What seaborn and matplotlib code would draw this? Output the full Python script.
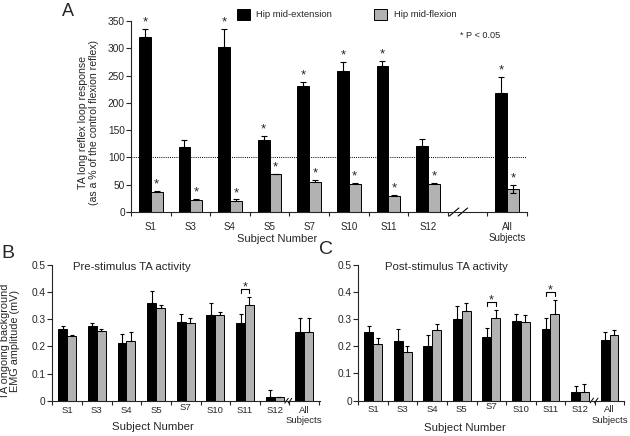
import numpy as np
import pandas as pd
import matplotlib
matplotlib.use('Agg')
import matplotlib.pyplot as plt
import seaborn as sns
from matplotlib.patches import Patch
from matplotlib.transforms import ScaledTranslation, blended_transform_factory

# ---------------- data ----------------
subjects = ['S1', 'S3', 'S4', 'S5', 'S7', 'S10', 'S11', 'S12', 'All']
tick_labels = ['S1', 'S3', 'S4', 'S5', 'S7', 'S10', 'S11', 'S12', 'All\nSubjects']
conditions = ['Hip mid-extension', 'Hip mid-flexion']

# Panel A: TA long reflex loop response (% of control flexion reflex)
a_ext = [320, 120, 302, 132, 231, 259, 267, 121, 218]
a_ext_err = [15, 12, 33, 8, 7, 16, 10, 12, 30]
a_flex = [36, 22, 21, 69, 55, 52, 30, 52, 42]
a_flex_err = [3, 1.5, 2, 1, 3, 2, 1, 2, 7]
a_flex_err_low = [0, 0, 0, 0, 0, 0, 0, 0, 7]
a_ext_sig = [1, 0, 1, 1, 1, 1, 1, 0, 1]
a_flex_sig = [1, 1, 1, 1, 1, 1, 1, 1, 1]

# Panel B: pre-stimulus TA activity (mV)
b_ext = [0.266, 0.274, 0.212, 0.359, 0.290, 0.317, 0.287, 0.013, 0.252]
b_ext_err = [0.008, 0.013, 0.033, 0.046, 0.029, 0.042, 0.031, 0.028, 0.052]
b_flex = [0.238, 0.256, 0.220, 0.340, 0.287, 0.314, 0.353, 0.012, 0.252]
b_flex_err = [0.004, 0.007, 0.033, 0.013, 0.017, 0.013, 0.030, 0.003, 0.052]
b_pair_sig = [0, 0, 0, 0, 0, 0, 1, 0, 0]

# Panel C: post-stimulus TA activity (mV)
c_ext = [0.252, 0.220, 0.200, 0.302, 0.235, 0.293, 0.262, 0.031, 0.224]
c_ext_err = [0.024, 0.042, 0.043, 0.045, 0.031, 0.026, 0.041, 0.023, 0.027]
c_flex = [0.210, 0.180, 0.260, 0.329, 0.303, 0.288, 0.320, 0.031, 0.240]
c_flex_err = [0.019, 0.022, 0.021, 0.029, 0.030, 0.029, 0.052, 0.031, 0.019]
c_pair_sig = [0, 0, 0, 0, 1, 0, 1, 0, 0]

BLACK = '#000000'
GREY = '#b2b2b2'

sns.set_style('ticks')
plt.rcParams['font.family'] = ['Liberation Sans', 'DejaVu Sans']
plt.rcParams['axes.linewidth'] = 0.8

fig = plt.figure(figsize=(6.3, 4.36), dpi=100)
W, H = 630, 436
axA = fig.add_axes([131 / W, 1 - 212 / H, 396 / W, 191 / H])
axB = fig.add_axes([51.7 / W, 1 - 400.7 / H, 268 / W, 135.7 / H])
axC = fig.add_axes([358.3 / W, 1 - 400.5 / H, 266 / W, 135.5 / H])


def make_df(ext, flex):
    return pd.DataFrame({
        'subject': subjects * 2,
        'condition': [conditions[0]] * len(subjects) + [conditions[1]] * len(subjects),
        'value': list(ext) + list(flex),
    })


def draw_panel(ax, ext, flex, order, lw):
    df = make_df(ext, flex)
    sns.barplot(data=df, x='subject', y='value', hue='condition', order=order,
                hue_order=conditions, palette=[BLACK, GREY], saturation=1,
                width=0.6, errorbar=None, edgecolor='black', linewidth=lw,
                legend=False, ax=ax)
    centers = []
    for cont in ax.containers[:2]:
        cs = sorted(p.get_x() + p.get_width() / 2 for p in cont)
        centers.append(np.array(cs))
    return centers


def errbars(ax, xs, vals, up, low, capsize, lw):
    ax.errorbar(xs, vals, yerr=[low, up], fmt='none', ecolor='black',
                elinewidth=lw, capsize=capsize, capthick=lw, zorder=5)


def style_axis(ax, n, xlim, xticksize, yticksize, pad):
    sns.despine(ax=ax)
    ax.set_xlim(*xlim)
    ax.set_xticks(np.arange(-0.5, n, 1.0), minor=True)
    ax.tick_params(axis='x', which='minor', length=3, width=0.8, direction='out')
    ax.tick_params(axis='x', which='major', length=0, pad=pad, labelsize=xticksize)
    ax.tick_params(axis='y', which='major', length=3.5, width=0.8, pad=1,
                   labelsize=yticksize, direction='out')
    ax.set_xlabel('')
    ax.set_ylabel('')


# ---------------- Panel A ----------------
orderA = subjects[:-1] + ['  ', 'All']
cA = draw_panel(axA, a_ext, a_flex, orderA, 0.7)
errbars(axA, cA[0], a_ext, a_ext_err, [0] * 9, 2.2, 0.8)
errbars(axA, cA[1], a_flex, a_flex_err, a_flex_err_low, 2.2, 0.8)
for xs, vals, errs, sig in [(cA[0], a_ext, a_ext_err, a_ext_sig),
                            (cA[1], a_flex, a_flex_err, a_flex_sig)]:
    for x, v, e, s in zip(xs, vals, errs, sig):
        if s:
            axA.annotate('*', (x, v + e), xytext=(0, 2.5), textcoords='offset points',
                         ha='center', va='baseline', fontsize=9.5)
axA.axhline(100, ls=(0, (1, 1.2)), lw=0.7, color='black', zorder=0.5)
axA.set_ylim(0, 350)
axA.set_yticks(np.arange(0, 351, 50))
style_axis(axA, 10, (-0.5, 9.5), 7.0, 7.3, 7)
axA.set_xticks(range(10))
axA.set_xticklabels(tick_labels[:-1] + ['', tick_labels[-1]])
axA.set_ylabel('TA long reflex loop response\n(as a % of the control flexion reflex)',
               fontsize=7.6)
axA.yaxis.set_label_coords(-0.08, 0.47)
axA.set_xlabel('Subject Number', fontsize=8)
axA.xaxis.set_label_coords(0.37, -0.115)

trA = blended_transform_factory(axA.transData, axA.transAxes)
for xc in (7.66, 7.88):
    axA.plot([xc - 0.12, xc + 0.12], [-0.021, 0.021], color='black', lw=0.8,
             transform=trA, clip_on=False)

handles = [Patch(facecolor=BLACK, edgecolor='black', lw=0.7),
           Patch(facecolor=GREY, edgecolor='black', lw=0.7)]
fig.legend(handles, conditions, loc='upper left', bbox_to_anchor=(237 / W, 1 - 9 / H),
           ncol=2, frameon=False, fontsize=6.8, handlelength=1.35, handleheight=1.35,
           handletextpad=0.7, columnspacing=4.45, borderaxespad=0, borderpad=0)
fig.text(460 / W, 1 - 36 / H, '* P < 0.05', fontsize=6.6, ha='left', va='center')
fig.text(68 / W, 1 - 12 / H, 'A', fontsize=13, ha='center', va='center')


# ---------------- Panels B and C ----------------
def bc_panel(ax, ext, ext_err, flex, flex_err, pair_sig, title, title_x, brk, xlim):
    c = draw_panel(ax, ext, flex, subjects, 0.7)
    errbars(ax, c[0], ext, ext_err, [0] * 9, 1.6, 0.8)
    errbars(ax, c[1], flex, flex_err, [0] * 9, 1.6, 0.8)
    for i, s in enumerate(pair_sig):
        if s:
            top = max(ext[i] + ext_err[i], flex[i] + flex_err[i]) + 0.03
            x0, x1 = c[0][i], c[1][i]
            ax.plot([x0, x0, x1, x1], [top - 0.015, top, top, top - 0.015],
                    color='black', lw=0.8, clip_on=False)
            ax.annotate('*', ((x0 + x1) / 2, top), xytext=(0, -1.2),
                        textcoords='offset points', ha='center', va='baseline',
                        fontsize=9)
    ax.set_ylim(0, 0.5)
    ax.set_yticks(np.arange(0, 0.51, 0.1))
    ax.set_yticklabels(['0', '0.1', '0.2', '0.3', '0.4', '0.5'])
    style_axis(ax, 9, xlim, 6.8, 7.3, 3.5)
    ax.set_xticks(range(9))
    ax.set_xticklabels(tick_labels)
    lab = ax.xaxis.get_major_ticks()[4].label1
    lab.set_transform(lab.get_transform() + ScaledTranslation(0, 3 / 100, fig.dpi_scale_trans))
    ax.set_xlabel('Subject Number', fontsize=8.2)
    ax.text(title_x, 0.985, title, transform=ax.transAxes, fontsize=8.2,
            ha='left', va='center')
    tr = blended_transform_factory(ax.transData, ax.transAxes)
    for xc in brk:
        ax.plot([xc - 0.06, xc + 0.06], [-0.018, 0.018], color='black', lw=0.7,
                transform=tr, clip_on=False)


bc_panel(axB, b_ext, b_ext_err, b_flex, b_flex_err, b_pair_sig,
         'Pre-stimulus TA activity', 0.08, (7.40, 7.52), (-0.52, 8.52))
axB.xaxis.set_label_coords(0.378, -0.16)
axB.set_ylabel('TA ongoing background\nEMG amplitude (mV)', fontsize=7.8,
               linespacing=1.0)
axB.yaxis.set_label_coords(-0.118, 0.44)
fig.text(8 / W, 1 - 254 / H, 'B', fontsize=14, ha='center', va='center')

bc_panel(axC, c_ext, c_ext_err, c_flex, c_flex_err, c_pair_sig,
         'Post-stimulus TA activity', 0.10, (7.40, 7.55), (-0.47, 8.5))
axC.xaxis.set_label_coords(0.40, -0.165)
fig.text(326 / W, 1 - 249 / H, 'C', fontsize=14, ha='center', va='center')

fig.savefig('out.png', dpi=100)
